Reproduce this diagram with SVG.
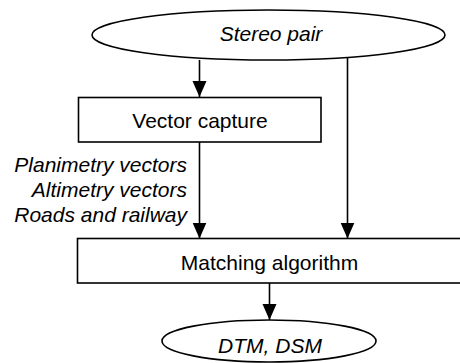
<svg xmlns="http://www.w3.org/2000/svg" width="460" height="363" viewBox="0 0 460 363">
  <style>
    .shape { fill: #fff; stroke: #000; stroke-width: 1.6; }
    .edge { fill: none; stroke: #000; stroke-width: 1.6; }
    .lbl { font-family: "Liberation Sans", Arial, sans-serif; font-size: 21px; fill: #000; }
    .it { font-style: italic; }
  </style>
  <defs>
    <marker id="arrow" markerUnits="userSpaceOnUse" markerWidth="16" markerHeight="16" viewBox="0 0 16 14" refX="16" refY="7" orient="auto">
      <path d="M0,0 L16,7 L0,14 Z" fill="#000"/>
    </marker>
  </defs>
  <rect width="460" height="363" fill="#fff"/>

  <!-- connectors -->
  <g id="connectors">
    <line class="edge" x1="199.5" y1="60" x2="199.5" y2="97" marker-end="url(#arrow)"/>
    <line class="edge" x1="347.5" y1="58" x2="347.5" y2="238.5" marker-end="url(#arrow)"/>
    <line class="edge" x1="199.5" y1="142" x2="199.5" y2="238.5" marker-end="url(#arrow)"/>
    <line class="edge" x1="269.5" y1="283" x2="269.5" y2="320" marker-end="url(#arrow)"/>
  </g>

  <g id="stereo-pair">
    <ellipse class="shape" cx="268.5" cy="35" rx="176.5" ry="25"/>
    <text class="lbl it" x="271" y="41" text-anchor="middle">Stereo pair</text>
  </g>

  <g id="vector-capture">
    <rect class="shape" x="78.5" y="97.5" width="242.5" height="44.5"/>
    <text class="lbl" x="200" y="128" text-anchor="middle">Vector capture</text>
  </g>

  <g id="vector-labels">
    <text class="lbl it" x="187" y="172" text-anchor="end">Planimetry vectors</text>
    <text class="lbl it" x="187" y="196.5" text-anchor="end">Altimetry vectors</text>
    <text class="lbl it" x="187" y="221.5" text-anchor="end">Roads and railway</text>
  </g>

  <g id="matching-algorithm">
    <rect class="shape" x="77.5" y="238.5" width="390" height="44.5"/>
    <text class="lbl" x="269.5" y="270" text-anchor="middle">Matching algorithm</text>
  </g>

  <g id="dtm-dsm">
    <ellipse class="shape" cx="269" cy="341" rx="107" ry="21"/>
    <text class="lbl it" x="270" y="352.5" text-anchor="middle">DTM, DSM</text>
  </g>
</svg>
